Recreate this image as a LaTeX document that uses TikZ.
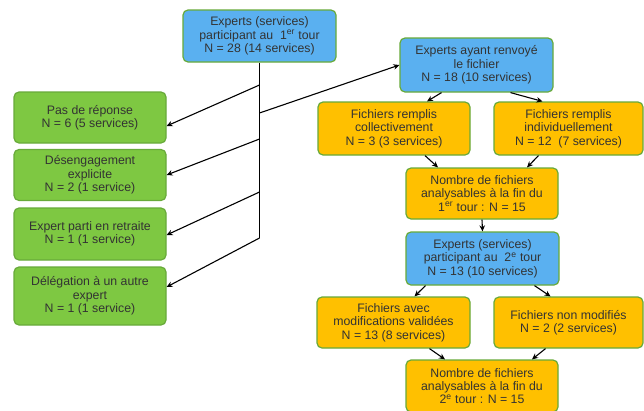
\documentclass[tikz,border=0pt]{standalone}
\usepackage{fontspec}
\setmainfont{Liberation Sans}
\usetikzlibrary{arrows.meta}
\definecolor{bblue}{RGB}{90,176,240}
\definecolor{bgreen}{RGB}{126,200,66}
\definecolor{borange}{RGB}{255,192,0}
\definecolor{bborder}{RGB}{104,170,58}
\tikzset{
  bx/.style={draw=bborder, line width=1.2pt, rounded corners=5pt, align=center,
    inner sep=1pt, font=\fontsize{12.3}{13.4}\selectfont, text=black!80},
  bluebox/.style={bx, fill=bblue},
  greenbox/.style={bx, fill=bgreen},
  orangebox/.style={bx, fill=borange},
  arr/.style={-{Stealth[length=6pt,width=5.5pt]}, line width=1.1pt, black},
  ln/.style={line width=1.1pt, black}
}
\begin{document}
\begin{tikzpicture}[x=1pt,y=-1pt]
\clip (0,0) rectangle (644,410);
\fill[white] (0,0) rectangle (644,410);
% blue boxes
\node[bluebox, minimum width=153pt, minimum height=52pt] (top) at (259.5,36) {Experts (services)\\participant au \ 1\textsuperscript{er} tour\\N = 28 (14 services)};
\node[bluebox, minimum width=153pt, minimum height=54pt] (ren) at (476.5,65) {Experts ayant renvoyé\\le fichier\\N = 18 (10 services)};
\node[bluebox, minimum width=153pt, minimum height=53pt] (e2) at (482.5,258.5) {Experts (services)\\participant au \ 2\textsuperscript{e} tour\\N = 13 (10 services)};
% green boxes
\node[greenbox, minimum width=152pt, minimum height=51pt] (pas) at (90,117.5) {Pas de réponse\\N = 6 (5 services)};
\node[greenbox, minimum width=152pt, minimum height=51pt] (des) at (90,175) {Désengagement\\explicite\\N = 2 (1 service)};
\node[greenbox, minimum width=152pt, minimum height=52pt] (ret) at (90,234) {Expert parti en retraite\\N = 1 (1 service)};
\node[greenbox, minimum width=152pt, minimum height=58pt] (del) at (90,296) {Délégation à un autre\\expert\\N = 1 (1 service)};
% orange boxes
\node[orangebox, minimum width=152pt, minimum height=53pt] (col) at (394,128.5) {Fichiers remplis\\collectivement\\N = 3 (3 services)};
\node[orangebox, minimum width=149pt, minimum height=53pt] (ind) at (568.5,128.5) {Fichiers remplis\\individuellement\\N = 12 \ (7 services)};
\node[orangebox, minimum width=152pt, minimum height=51pt] (nb1) at (482,193.5) {Nombre de fichiers\\analysables à la fin du\\1\textsuperscript{er} tour : N = 15};
\node[orangebox, minimum width=153pt, minimum height=51pt] (avm) at (393.5,322.5) {Fichiers avec\\modifications validées\\N = 13 (8 services)};
\node[orangebox, minimum width=149pt, minimum height=51pt] (nom) at (568.5,322.5) {Fichiers non modifiés\\N = 2 (2 services)};
\node[orangebox, minimum width=152pt, minimum height=52pt] (nb2) at (482,386) {Nombre de fichiers\\analysables à la fin du\\2\textsuperscript{e} tour : N = 15};
% trunk
\coordinate (t1) at (259.5,85);
\coordinate (t2) at (259.5,113);
\coordinate (t3) at (259.5,139);
\coordinate (t4) at (259.5,192);
\coordinate (t5) at (259.5,238);
\draw[ln] (top.south) -- (t5);
\draw[arr] (t1) -- ([yshift=-8.5pt]pas.east);
\draw[arr] (t2) -- (ren.west);
\draw[arr] (t3) -- (des.east);
\draw[arr] (t4) -- ([yshift=-1pt]ret.east);
\draw[arr] (t5) -- ([yshift=9pt]del.east);
% right side arrows
\draw[arr] ([xshift=-35pt]ren.south) -- ([xshift=33pt]col.north);
\draw[arr] ([xshift=34pt]ren.south) -- ([xshift=-26pt]ind.north);
\draw[arr] ([xshift=31pt]col.south) -- ([xshift=-44pt]nb1.north);
\draw[arr] ([xshift=-30pt]ind.south) -- ([xshift=45pt]nb1.north);
\draw[arr] (nb1.south) -- (e2.north);
\draw[arr] ([xshift=-57pt]e2.south) -- ([xshift=21pt]avm.north);
\draw[arr] ([xshift=52pt]e2.south) -- ([xshift=-18pt]nom.north);
\draw[arr] ([xshift=36pt]avm.south) -- ([xshift=-37pt]nb2.north);
\draw[arr] ([xshift=-23pt]nom.south) -- ([xshift=50pt]nb2.north);
\end{tikzpicture}
\end{document}
